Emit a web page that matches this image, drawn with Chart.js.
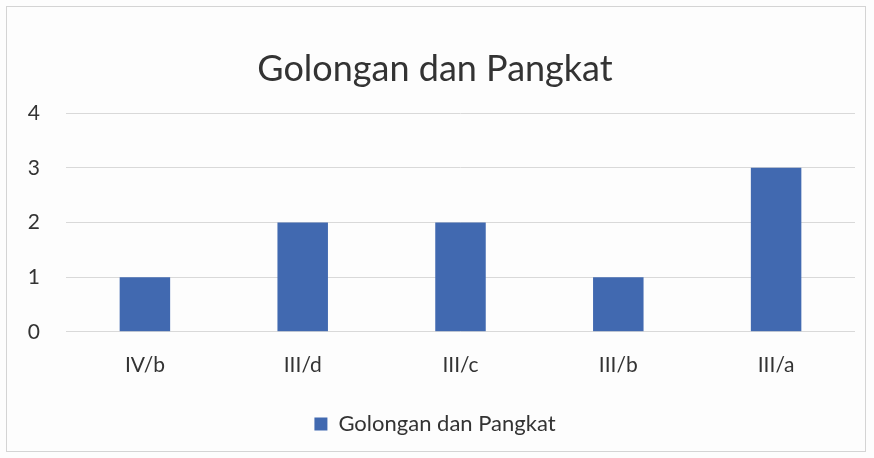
<!DOCTYPE html>
<html>
<head>
<meta charset="utf-8">
<script src="https://cdn.jsdelivr.net/npm/chart.js@4"></script>
<style>
  html, body { margin: 0; padding: 0; background: #fdfdfd; }
  #wrap { position: absolute; left: 6px; top: 6px; width: 860px; height: 446px;
          border: 1px solid #d4d4d4; box-sizing: border-box; }
  canvas { display: block; }
</style>
</head>
<body>
<div id="wrap"><canvas id="chart"></canvas></div>
<script>
  // data
  const categories = ['IV/b', 'III/d', 'III/c', 'III/b', 'III/a'];
  const counts = [1, 2, 2, 1, 3];
  const seriesName = 'Golongan dan Pangkat';
  const yTicks = [0, 1, 2, 3, 4];

  const barColor = '#4169b0';
  const fontFamily = 'Lato, "Open Sans", sans-serif';

  new Chart(document.getElementById('chart'), {
    type: 'bar',
    data: {
      labels: categories,
      datasets: [{
        label: seriesName,
        data: counts,
        backgroundColor: barColor,
        borderWidth: 0,
        barPercentage: 0.32,
        categoryPercentage: 1,
      }],
    },
    options: {
      responsive: true,
      maintainAspectRatio: false,
      animation: false,
      layout: { padding: { left: 8, right: 10, top: 41, bottom: 6 } },
      plugins: {
        title: {
          display: true,
          text: seriesName,
          color: '#333333',
          font: { family: fontFamily, size: 36, weight: 'normal' },
          padding: { top: 0, bottom: 22 },
        },
        legend: {
          position: 'bottom',
          labels: {
            color: '#333333',
            font: { family: fontFamily, size: 22 },
            boxWidth: 13, boxHeight: 13, padding: 14,
          },
        },
        tooltip: { enabled: false },
      },
      scales: {
        x: {
          grid: { display: false, drawTicks: false },
          border: { display: false },
          ticks: { color: '#333333', font: { family: fontFamily, size: 21 }, padding: 21 },
        },
        y: {
          min: 0, max: 4,
          afterBuildTicks: (axis) => { axis.ticks = yTicks.map(v => ({ value: v })); },
          afterFit: (axis) => { axis.width = 51; },
          grid: { color: '#d9d9d9', drawTicks: false },
          border: { display: false },
          ticks: { color: '#333333', font: { family: fontFamily, size: 21 }, padding: 26 },
        },
      },
    },
  });
</script>
</body>
</html>
